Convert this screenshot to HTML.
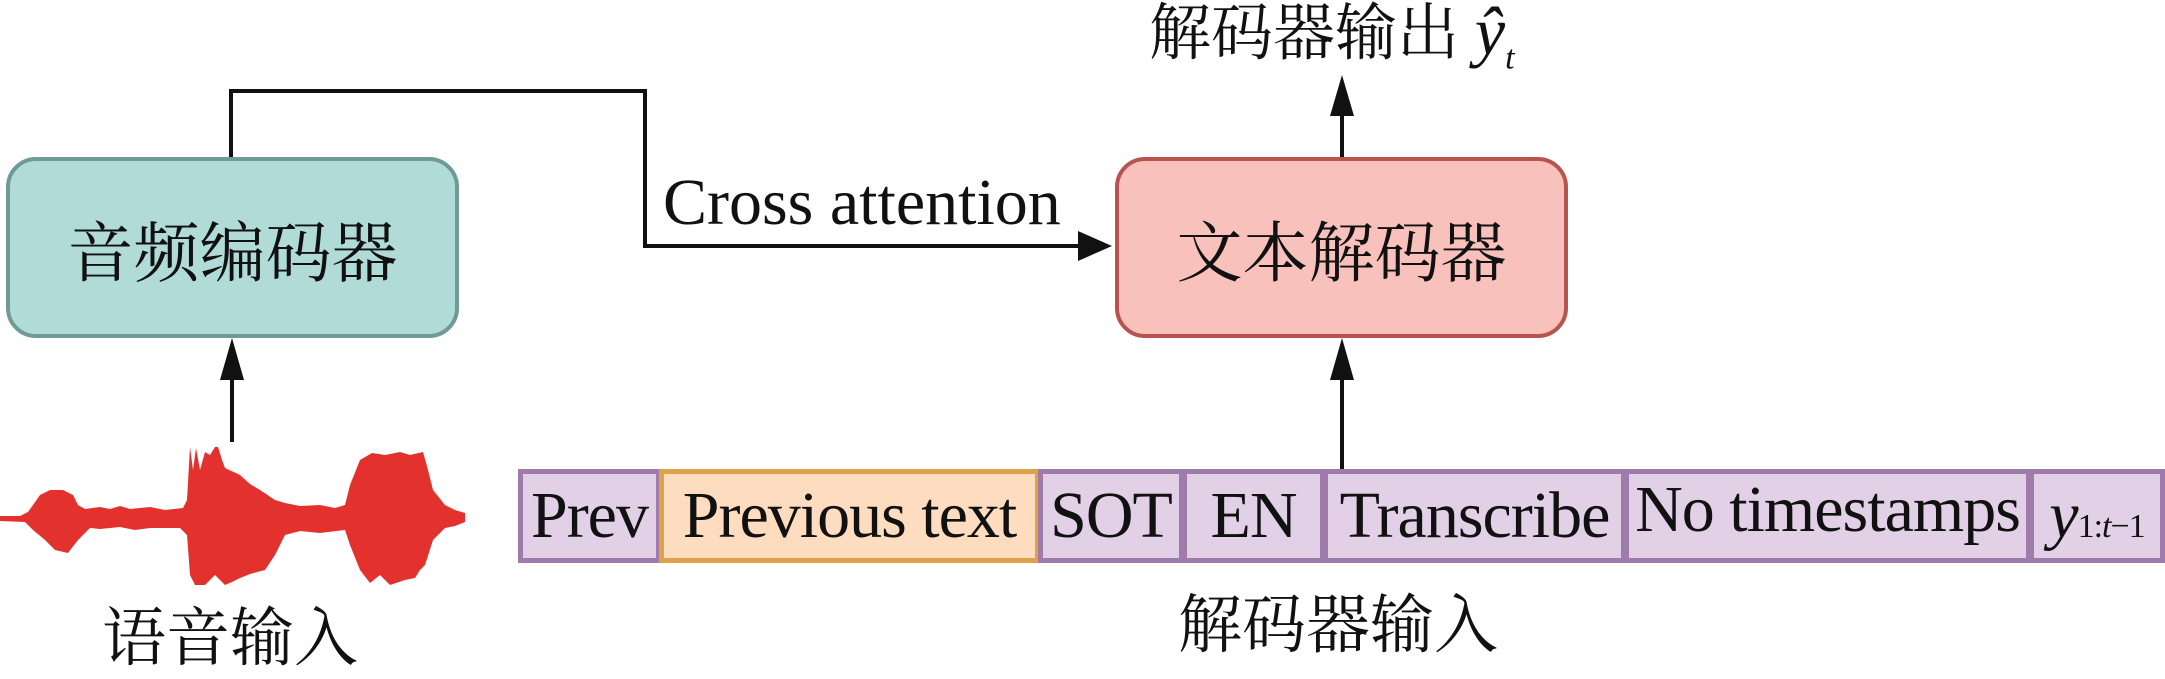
<!DOCTYPE html>
<html><head><meta charset="utf-8"><style>
html,body{margin:0;padding:0;background:#fff;}
body{width:2165px;height:674px;position:relative;overflow:hidden;font-family:"Liberation Serif","Noto Serif CJK SC",serif;color:#111;}
.abs{position:absolute;}
.box{position:absolute;box-sizing:border-box;border-radius:30px;border:4px solid;display:flex;align-items:center;justify-content:center;font-size:66px;}
.tok{position:absolute;top:469px;height:94px;box-sizing:border-box;border:5px solid #9e7ba8;background:#e1d0e6;font-size:66px;display:flex;align-items:center;justify-content:center;white-space:nowrap;letter-spacing:-1px;}
.cjk{font-family:"Noto Serif CJK SC","Liberation Serif",serif;}
</style></head><body>
<svg class="abs" style="left:0;top:0" width="2165" height="674">
<polyline points="231,157 231,91 645,91 645,246 1085,246" fill="none" stroke="#111" stroke-width="4"/>
<path d="M1112,246 L1078,231 L1078,261z" fill="#111"/>
<line x1="232" y1="442" x2="232" y2="375" stroke="#111" stroke-width="4"/>
<path d="M232,338 L220,380 L244,380z" fill="#111"/>
<line x1="1342" y1="469" x2="1342" y2="375" stroke="#111" stroke-width="4"/>
<path d="M1342,338 L1330,380 L1354,380z" fill="#111"/>
<line x1="1342" y1="157" x2="1342" y2="110" stroke="#111" stroke-width="4"/>
<path d="M1342,75 L1330,116 L1354,116z" fill="#111"/>
<polygon fill="#e3312d" points="0,516 20,516 28,512 33,505 40,495 50,490 63,490 73,495 78,505 85,509 100,507 110,509 120,506 130,509 150,507 165,510 183,508 187,500 190,447 193,470 196,448 200,470 205,452 210,455 215,447 218,447 222,460 225,468 240,475 250,484 260,490 275,500 285,503 300,506 320,505 335,508 345,505 350,485 360,460 372,453 385,455 400,452 410,455 423,452 428,470 433,490 445,505 455,510 465,513 465,522 455,526 445,528 433,540 425,565 420,570 415,578 405,580 390,585 380,575 370,583 360,570 350,545 345,530 320,533 300,531 285,535 275,555 265,570 250,574 240,578 232,582 225,585 215,575 205,585 195,585 190,575 187,535 180,528 150,528 135,530 120,527 100,529 90,528 78,540 68,553 55,550 45,540 33,530 25,522 0,521"/>
</svg>
<div class="box cjk" style="left:6px;top:157px;width:453px;height:181px;background:#b0dbd6;border-color:#6f9a97;">音频编码器</div>
<div class="box cjk" style="left:1115px;top:157px;width:453px;height:181px;background:#f8c1bc;border-color:#b85450;">文本解码器</div>
<div class="abs" style="left:663px;top:170px;font-size:66px;line-height:1;white-space:nowrap;">Cross attention</div>
<div class="abs cjk" style="left:1149px;top:-6px;font-size:62px;line-height:1.1;white-space:nowrap;">解码器输出 <span style="font-family:'Liberation Serif',serif;font-style:italic;font-size:68px;">ŷ<sub style="font-size:34px;">t</sub></span></div>
<div class="abs cjk" style="left:102px;top:598px;font-size:64px;line-height:1.1;white-space:nowrap;">语音输入</div>
<div class="abs cjk" style="left:1178px;top:585px;font-size:64px;line-height:1.1;white-space:nowrap;">解码器输入</div>
<div class="tok" style="left:518px;width:143px;">Prev</div>
<div class="tok" style="left:659px;width:381px;background:#fedcc0;border-color:#dda24a;">Previous text</div>
<div class="tok" style="left:1038px;width:146px;">SOT</div>
<div class="tok" style="left:1182px;width:143px;">EN</div>
<div class="tok" style="left:1323px;width:303px;">Transcribe</div>
<div class="tok" style="left:1624px;width:407px;"><span style="position:relative;top:-6px;">No timestamps</span></div>
<div class="tok" style="left:2029px;width:136px;"><span><i>y</i><span style="font-size:34px;">1:<i>t</i>−1</span></span></div>
</body></html>
